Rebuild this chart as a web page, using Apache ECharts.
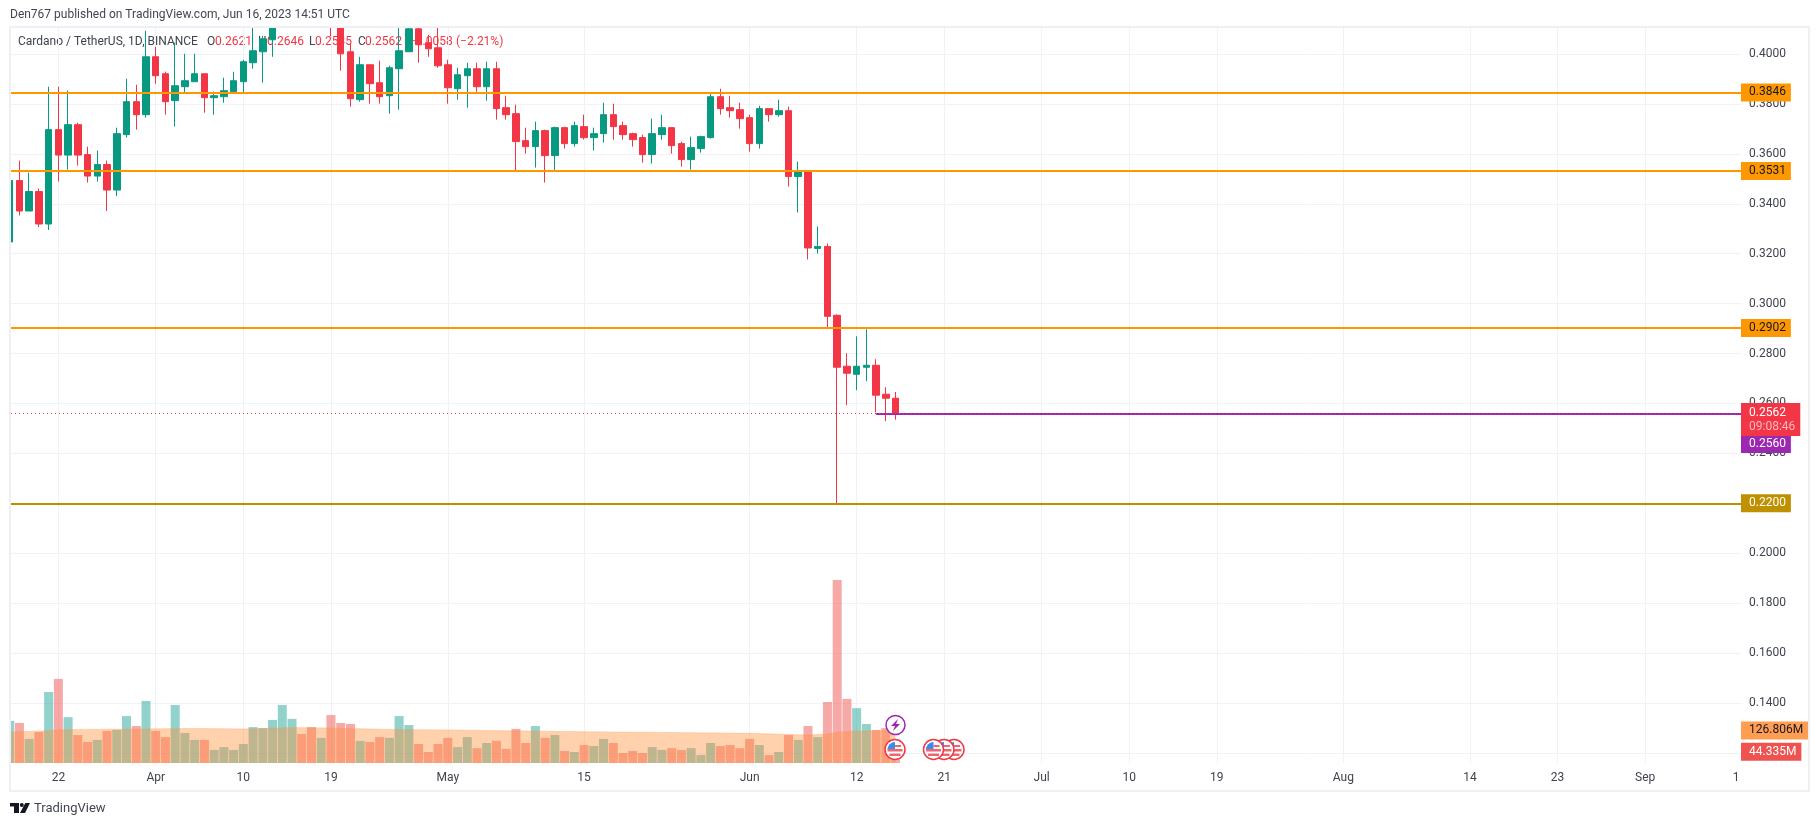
<!DOCTYPE html>
<html>
<head>
<meta charset="utf-8">
<title>Cardano / TetherUS</title>
<script src="https://cdn.jsdelivr.net/npm/echarts@6/dist/echarts.min.js"></script>
<style>
  html, body { margin: 0; padding: 0; background: #fff; }
  #chart { width: 1819px; height: 826px; }
</style>
</head>
<body>
<div id="chart"></div>
<script>
// daily candles, 17 Mar .. 16 Jun 2023 (day 0 = 17 Mar). 14-18 Apr are above the visible range
const opens = [
  .3247,.3493,.3371,.3449,.3319,.3697,.3595,.3717,.3597,.3511,.3557,.3455,.3677,.3809,.3757,
  .3989,.3921,.3813,.3869,.3889,.3921,.3825,.3829,.3849,.3889,.3965,.4009,.4057,.4190,.4440,.4520,.4470,.4300,.4450,.4125,.4009,.3817,.3957,.3885,.3833,.3941,.4009,.4101,.4045,.4025,
  .3957,.3861,.3913,.3941,.3869,.3941,.3785,.3761,.3653,.3629,.3693,.3593,.3705,.3641,.3709,.3665,.3681,.3757,.3713,.3681,.3665,.3597,.3677,.3705,.3641,.3577,.3621,.3665,.3829,.3785,.3777,
  .3745,.3641,.3781,.3757,.3773,.3509,.3529,.3221,.3229,.2953,.2749,.2717,.2745,.2753,.2637,.2621
];
const closes = [
  .3493,.3371,.3449,.3319,.3697,.3595,.3717,.3595,.3511,.3557,.3455,.3681,.3809,.3757,.3989,
  .3913,.3809,.3873,.3893,.3921,.3825,.3833,.3853,.3893,.3969,.4013,.4061,.4190,.4440,.4520,.4470,.4300,.4450,.4125,.4001,.3821,.3957,.3881,.3829,.3945,.4013,.4101,.4037,.4021,.3953,
  .3865,.3917,.3941,.3869,.3941,.3781,.3757,.3649,.3629,.3693,.3593,.3705,.3641,.3713,.3665,.3681,.3757,.3709,.3677,.3657,.3597,.3681,.3705,.3633,.3577,.3625,.3669,.3829,.3781,.3773,.3741,
  .3641,.3781,.3757,.3773,.3509,.3533,.3223,.3229,.2949,.2745,.2721,.2749,.2753,.2633,.2621,.2562
];
const lows = [
  .3247,.3353,.3371,.3307,.3295,.3489,.3537,.3553,.3485,.3489,.3371,.3431,.3665,.3697,.3745,
  .3881,.3757,.3709,.3841,.3889,.3765,.3757,.3805,.3841,.3845,.3941,.3885,.3989,.4140,.4380,.4400,.4150,.4250,.4071,.3933,.3789,.3809,.3801,.3801,.3761,.3777,.4009,.3965,.3989,.3945,
  .3801,.3817,.3785,.3849,.3813,.3737,.3737,.3533,.3601,.3545,.3485,.3533,.3621,.3629,.3657,.3613,.3645,.3657,.3657,.3629,.3565,.3561,.3657,.3601,.3549,.3537,.3605,.3661,.3757,.3745,.3701,
  .3609,.3621,.3729,.3749,.3469,.3365,.3177,.3201,.2905,.2200,.2593,.2653,.2689,.2564,.2529,.2535
];
const highs = [
  .3524,.3573,.3525,.3461,.3869,.3869,.3853,.3725,.3629,.3613,.3573,.3705,.3901,.3877,.4093,
  .4029,.3929,.4045,.4001,.4001,.3921,.3849,.3905,.3929,.3977,.4140,.4073,.4240,.4520,.4640,.4600,.4500,.4470,.4480,.4160,.4044,.3989,.3957,.3973,.3953,.4130,.4150,.4140,.4077,.4130,
  .3977,.3945,.3965,.3965,.3969,.3969,.3833,.3797,.3705,.3729,.3697,.3709,.3709,.3729,.3757,.3705,.3805,.3801,.3729,.3685,.3677,.3741,.3757,.3705,.3649,.3669,.3673,.3845,.3861,.3833,.3805,
  .3757,.3793,.3781,.3817,.3789,.3569,.3533,.3309,.3241,.2957,.2801,.2869,.2897,.2777,.2665,.2646
];
// volume, millions
const volumes = [
  164,156,94,121,277,328,179,109,82,90,125,129,183,144,242,
  125,101,226,117,90,90,51,62,51,74,140,136,168,226,172,113,140,98,187,156,152,86,82,101,98,183,148,74,43,74,
  98,62,101,58,78,86,55,133,78,144,98,109,47,43,70,66,94,78,39,47,39,62,51,58,51,58,31,78,66,70,58,
  94,70,31,43,109,90,144,101,238,714,250,214,152,129,136,44.335
];
// volume average, read at the days where its slope changes
const maDays = [0,4,5,19,24,29,33,39,45,59,76,82,84,85,87,91];
const maValues = [121,126,130,135,133,138,136.5,131,129,122,116,109,113,120,125,126.806];

const tickDays = [5,15,24,33,45,59,76,87,96,106,115,124,137,150,159,168];
const tickLabels = ['22','Apr','10','19','May','15','Jun','12','21','Jul','10','19','Aug','14','23','Sep'];
const priceTicks = [0.12,0.14,0.16,0.18,0.20,0.22,0.24,0.26,0.28,0.30,0.32,0.34,0.36,0.38,0.40];

const levels = [0.3846, 0.3531, 0.2902];
const supportLevel = 0.2200;
const lastClose = 0.2562;
const drawnLevel = 0.2560;
const drawnFromDay = 89;
const volumeAvgLast = 126.806;
const volumeLast = 44.335;

const X_MIN = 0.1335, X_MAX = 177.84;
const UP = '#089981', DOWN = '#f23645', ORANGE = '#ff9800', GOLD = '#bf9000', PURPLE = '#9c27b0';
const FONT = 'Roboto, sans-serif';
const TEXT = '#3f434e';
const GRID = '#f1f2f5';

const myChart = echarts.init(document.getElementById('chart'));

const tag = (text, bg, color, extra) => Object.assign({
  show: true, position: 'end', distance: 0, fontFamily: FONT, fontSize: 12, opacity: 1,
  color: color, backgroundColor: bg, padding: [4, 5, 2, 8],
  formatter: () => text
}, extra);

function usFlag(x, y) {
  return {
    type: 'group', x: x, y: y, z: 6, children: [
      { type: 'circle', z: 6, shape: { r: 10 }, style: { fill: '#fff', stroke: DOWN, lineWidth: 1.5 } },
      { type: 'sector', z: 6, shape: { r: 7.5, startAngle: Math.PI, endAngle: Math.PI * 1.5 }, style: { fill: '#3d8be8' } },
      { type: 'rect', z: 6, shape: { x: 0, y: -4.5, width: 6, height: 2 }, style: { fill: '#f0646e' } },
      { type: 'rect', z: 6, shape: { x: -7.5, y: -0.5, width: 15, height: 2.5 }, style: { fill: '#f0646e' } },
      { type: 'rect', z: 6, shape: { x: -5.5, y: 4, width: 11, height: 2.5 }, style: { fill: '#f0646e' } }
    ]
  };
}

function txt(text, x, y, color, size, align, z) {
  return {
    type: 'text', x: x, y: y, z: z || 0,
    style: { text: text, fill: color, font: size + 'px ' + FONT, align: align || 'left', verticalAlign: 'middle' }
  };
}

const legendParts = [
  ['Cardano / TetherUS, 1D, BINANCE', 18, TEXT],
  ['O', 207, TEXT], ['0.2621', 215, DOWN],
  ['H', 258, TEXT], ['0.2646', 267, DOWN],
  ['L', 309, TEXT], ['0.2535', 315, DOWN],
  ['C', 358, TEXT], ['0.2562', 365, DOWN],
  ['\u22120.0058', 409, DOWN], ['(\u22122.21%)', 456, DOWN]
];

const option = {
  animation: false,
  backgroundColor: '#fff',
  grid: { left: 11, right: 78, top: 28, bottom: 63, containLabel: false },
  xAxis: {
    type: 'value',
    min: X_MIN,
    max: X_MAX,
    axisLine: { show: false },
    axisTick: { show: false, customValues: tickDays },
    axisLabel: {
      customValues: tickDays,
      margin: 9,
      fontFamily: FONT,
      fontSize: 12,
      color: TEXT,
      formatter: v => tickLabels[tickDays.indexOf(v)]
    },
    splitLine: { show: true, lineStyle: { color: GRID, width: 1 } }
  },
  yAxis: [
    {
      type: 'value',
      position: 'right',
      min: 0.11595,
      max: 0.41042,
      axisLine: { show: false },
      axisTick: { show: false, customValues: priceTicks },
      axisLabel: {
        customValues: priceTicks,
        margin: 8,
        fontFamily: FONT,
        fontSize: 12,
        color: TEXT,
        formatter: v => v.toFixed(4)
      },
      splitLine: { show: true, lineStyle: { color: GRID, width: 1 } }
    },
    { type: 'value', min: 0, max: 2866.5, show: false, splitLine: { show: false } }
  ],
  series: [
    {
      name: 'Volume',
      type: 'bar',
      yAxisIndex: 1,
      barWidth: 9,
      z: 1,
      data: volumes.map((v, i) => ({
        value: [i, v],
        itemStyle: { color: closes[i] >= opens[i] ? 'rgba(38,166,154,0.5)' : 'rgba(239,83,80,0.5)' }
      })),
      markLine: {
        symbol: 'none', silent: true, precision: 3,
        lineStyle: { width: 0, color: 'rgba(0,0,0,0)' },
        data: [
          { yAxis: volumeAvgLast, label: tag(volumeAvgLast.toFixed(3) + 'M', '#ff9e52', '#131722') },
          { yAxis: volumeLast, label: tag(volumeLast.toFixed(3) + 'M', '#ef5350', '#fff') }
        ]
      }
    },
    {
      name: 'Volume MA',
      type: 'line',
      yAxisIndex: 1,
      z: 2,
      showSymbol: false,
      lineStyle: { width: 1, color: 'rgba(255,152,80,0.3)' },
      areaStyle: { color: 'rgba(255,139,51,0.4)', opacity: 1 },
      data: maDays.map((d, i) => [d, maValues[i]])
    },
    {
      name: 'ADAUSDT',
      type: 'candlestick',
      z: 3,
      barWidth: 7,
      itemStyle: { color: UP, color0: DOWN, borderColor: UP, borderColor0: DOWN, borderWidth: 1 },
      data: opens.map((o, i) => [i, o, closes[i], lows[i], highs[i]]),
      markLine: {
        symbol: 'none', silent: true, precision: 4,
        data: [
          ...levels.map(v => ({
            yAxis: v,
            lineStyle: { color: ORANGE, width: 2, type: 'solid' },
            label: tag(v.toFixed(4), ORANGE, '#131722')
          })),
          {
            yAxis: supportLevel,
            lineStyle: { color: GOLD, width: 2, type: 'solid' },
            label: tag(supportLevel.toFixed(4), GOLD, '#fff')
          },
          [
            { coord: [drawnFromDay, drawnLevel], lineStyle: { color: PURPLE, width: 2, type: 'solid' }, label: tag(drawnLevel.toFixed(4), PURPLE, '#fff', { offset: [0, 30.5] }) },
            { coord: [X_MAX, drawnLevel] }
          ],
          {
            yAxis: lastClose,
            lineStyle: { color: DOWN, width: 1, type: [1, 3] },
            label: {
              show: true, position: 'end', distance: 0, fontFamily: FONT,
              backgroundColor: DOWN, padding: [3, 5, 2, 8], offset: [0, 6.5],
              formatter: () => '{a|' + lastClose.toFixed(4) + '}\n{b|09:08:46}',
              rich: {
                a: { color: '#fff', fontSize: 12, fontFamily: FONT, lineHeight: 14 },
                b: { color: '#ffb9be', fontSize: 12, fontFamily: FONT, lineHeight: 14 }
              }
            }
          }
        ]
      }
    }
  ],
  graphic: [
    ...legendParts.map(p => txt(p[0], p[1], 42, p[2], 12)),
    // candlestick does not clip to the grid, cover what sticks out
    { type: 'rect', z: 5, shape: { x: 0, y: 0, width: 1819, height: 27 }, style: { fill: '#fff' } },
    { type: 'rect', z: 5, shape: { x: 0, y: 27, width: 10, height: 764 }, style: { fill: '#fff' } },
    // chart frame
    { type: 'rect', z: 6, shape: { x: 10, y: 27, width: 1799, height: 764 }, style: { fill: 'none', stroke: '#eff0f5', lineWidth: 2 } },
    txt('Den767 published on TradingView.com, Jun 16, 2023 14:51 UTC', 10, 15, '#434651', 12, 'left', 6),
    // the last time label is cut by the price scale
    txt('1', 1736, 778, TEXT, 12, 'center'),
    // event markers
    usFlag(954, 749.5),
    usFlag(944, 749.5),
    usFlag(933.5, 749.5),
    usFlag(895, 749.5),
    { type: 'circle', z: 6, x: 895.5, y: 725, shape: { r: 9.5 }, style: { fill: '#fff', stroke: PURPLE, lineWidth: 1.5 } },
    {
      type: 'polygon', z: 6, x: 895.5, y: 725,
      shape: { points: [[2.5, -6], [-4.5, 1], [-0.5, 1], [-2.5, 6], [4.5, -1], [0.5, -1]] },
      style: { fill: PURPLE }
    },
    // watermark
    { type: 'rect', shape: { x: 10, y: 803, width: 9, height: 3.5 }, style: { fill: '#131722' } },
    { type: 'rect', shape: { x: 14, y: 803, width: 5, height: 10 }, style: { fill: '#131722' } },
    { type: 'circle', shape: { cx: 21.8, cy: 805, r: 2 }, style: { fill: '#131722' } },
    { type: 'polygon', shape: { points: [[25.3, 803], [30, 803], [25, 813], [20, 813]] }, style: { fill: '#131722' } },
    txt('TradingView', 34, 809, '#434651', 13)
  ]
};

myChart.setOption(option);
</script>
</body>
</html>
